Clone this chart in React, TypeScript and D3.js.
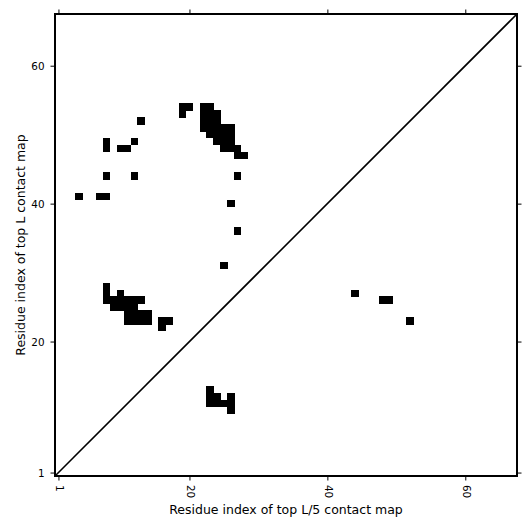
import React, { useEffect, useRef } from 'react';
import * as d3 from 'd3';

const residueCount = 67;
const tickValues = [1, 20, 40, 60];
const xLabel = 'Residue index of top L/5 contact map';
const yLabel = 'Residue index of top L contact map';

// [residue i (x), residue j (y)] — upper triangle: top L contacts
const topLContacts: [number, number][] = [
  [19, 54], [20, 54], [19, 53],
  [22, 54], [23, 54],
  [22, 53], [23, 53], [24, 53],
  [22, 52], [23, 52], [24, 52],
  [22, 51], [23, 51], [24, 51], [25, 51], [26, 51],
  [23, 50], [24, 50], [25, 50], [26, 50],
  [24, 49], [25, 49], [26, 49],
  [25, 48], [26, 48], [27, 48],
  [27, 47], [28, 47],
  [13, 52], [12, 49], [10, 48], [11, 48], [8, 49], [8, 48],
  [8, 44], [12, 44], [27, 44], [26, 40], [4, 41], [7, 41], [8, 41],
  [27, 36], [25, 31],
  [8, 28],
  [8, 27], [10, 27],
  [8, 26], [9, 26], [10, 26], [11, 26], [12, 26], [13, 26],
  [9, 25], [10, 25], [11, 25], [12, 25],
  [11, 24], [12, 24], [13, 24], [14, 24],
  [11, 23], [12, 23], [13, 23], [14, 23], [16, 23], [17, 23],
  [16, 22],
];

// lower triangle: top L/5 contacts
const topL5Contacts: [number, number][] = [
  [23, 13],
  [23, 12], [24, 12], [26, 12],
  [23, 11], [24, 11], [25, 11], [26, 11],
  [26, 10],
  [44, 27], [48, 26], [49, 26], [52, 23],
];

export default function App() {
  const ref = useRef<SVGSVGElement>(null);

  useEffect(() => {
    const svg = d3.select(ref.current);
    svg.selectAll('*').remove();
    const font = '"DejaVu Sans", sans-serif';
    const L = 55, R = 517, T = 14, B = 476;

    const x = d3.scaleLinear().domain([0.5, residueCount + 0.5]).range([L, R]);
    const y = d3.scaleLinear().domain([0.5, residueCount + 0.5]).range([B, T]);

    const cells = topLContacts.concat(topL5Contacts);
    svg.append('g')
      .attr('shape-rendering', 'crispEdges')
      .selectAll('rect')
      .data(cells)
      .join('rect')
      .attr('x', d => x(d[0] - 0.5) - 0.3)
      .attr('y', d => y(d[1] + 0.5) - 0.3)
      .attr('width', d => x(d[0] + 0.5) - x(d[0] - 0.5) + 0.6)
      .attr('height', d => y(d[1] - 0.5) - y(d[1] + 0.5) + 0.6)
      .attr('fill', '#000');

    svg.append('line')
      .attr('x1', x(0.5)).attr('y1', y(0.5))
      .attr('x2', x(residueCount + 0.5)).attr('y2', y(residueCount + 0.5))
      .attr('stroke', '#000').attr('stroke-width', 1.6);

    const styleAxis = (g: any) => {
      g.select('.domain').remove();
      g.selectAll('.tick line').attr('stroke', '#000').attr('stroke-width', 1);
      g.selectAll('text').attr('fill', '#000').style('font-family', font).style('font-size', '10.4px');
    };

    const gb = svg.append('g').attr('transform', `translate(0,${B})`)
      .call(d3.axisBottom(x).tickValues(tickValues).tickSize(4.5).tickFormat(d3.format('d')));
    styleAxis(gb);
    gb.selectAll('text')
      .attr('y', 0).attr('x', 9).attr('dy', '0.3em')
      .attr('transform', 'rotate(90)')
      .style('text-anchor', 'start');

    const gl = svg.append('g').attr('transform', `translate(${L},0)`)
      .call(d3.axisLeft(y).tickValues(tickValues).tickSize(4.5).tickPadding(6).tickFormat(d3.format('d')));
    styleAxis(gl);
    gl.selectAll('text').attr('dy', '0.34em');

    const gt = svg.append('g').attr('transform', `translate(0,${T})`)
      .call(d3.axisTop(x).tickValues(tickValues).tickSize(4.5).tickFormat(() => ''));
    styleAxis(gt);
    const gr = svg.append('g').attr('transform', `translate(${R},0)`)
      .call(d3.axisRight(y).tickValues(tickValues).tickSize(4.5).tickFormat(() => ''));
    styleAxis(gr);

    svg.append('rect')
      .attr('x', L).attr('y', T).attr('width', R - L).attr('height', B - T)
      .attr('fill', 'none').attr('stroke', '#000').attr('stroke-width', 2);

    svg.append('text')
      .attr('x', (L + R) / 2).attr('y', 514)
      .attr('text-anchor', 'middle')
      .style('font-family', font).style('font-size', '12.5px')
      .text(xLabel);

    svg.append('text')
      .attr('transform', `translate(25,${(T + B) / 2}) rotate(-90)`)
      .attr('text-anchor', 'middle')
      .style('font-family', font).style('font-size', '12.5px')
      .text(yLabel);
  }, []);

  return (
    <svg
      ref={ref}
      width={531}
      height={531}
      style={{ position: 'absolute', left: 0, top: 0, background: '#fff' }}
    />
  );
}
